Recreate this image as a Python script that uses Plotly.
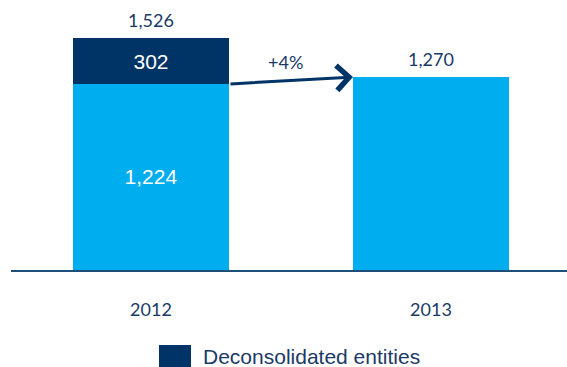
import plotly.graph_objects as go

years = ["2012", "2013"]
core = [1224, 1270]
deconsolidated = [302, 0]
growth_label = "+4%"
legend_label = "Deconsolidated entities"

LIGHT = "#00AEEF"
DARK = "#003366"
TEXT = "#1B3A66"
NUMFONT = "Lato"

totals = [c + d for c, d in zip(core, deconsolidated)]
bw = 0.557

fig = go.Figure()
fig.add_trace(go.Bar(
    x=[0, 1], y=core, width=bw, marker=dict(color=LIGHT, line_width=0),
    text=[f"{core[0]:,}", ""], textposition="inside", insidetextanchor="middle",
    textfont=dict(family="Liberation Sans, Arial", size=21, color="white"),
    showlegend=False, hoverinfo="skip"))
fig.add_trace(go.Bar(
    x=[0, 1], y=deconsolidated, width=bw, marker=dict(color=DARK, line_width=0),
    text=[f"{deconsolidated[0]:,}", ""], textposition="inside", insidetextanchor="middle",
    textfont=dict(family="Liberation Sans, Arial", size=21, color="white"),
    name=legend_label, showlegend=False, hoverinfo="skip"))

annotations = []
for i, t in enumerate(totals):
    annotations.append(dict(x=i, y=t, xref="x", yref="y", text=f"{t:,}",
                            showarrow=False, yanchor="bottom", yshift=5,
                            font=dict(family=NUMFONT, size=18, color=TEXT)))
# growth arrow from end of 2012 core bar to 2013 bar
annotations.append(dict(x=1 - bw / 2, y=core[1], ax=bw / 2, ay=core[0],
                        xref="x", yref="y", axref="x", ayref="y", text="",
                        showarrow=True, arrowhead=4, arrowsize=1.6, arrowwidth=3,
                        arrowcolor=DARK))
annotations.append(dict(x=0.48, y=(core[0] + core[1]) / 2, xref="x", yref="y",
                        text=growth_label, showarrow=False, yshift=18,
                        font=dict(family=NUMFONT, size=18, color=TEXT)))
# legend
annotations.append(dict(x=(201 - 11) / 556, y=-(357 - 270) / 250, xref="paper", yref="paper",
                        text=legend_label, showarrow=False, xanchor="left", yanchor="middle",
                        font=dict(family="Liberation Sans, Arial", size=21, color=TEXT)))

shapes = [dict(type="rect", xref="paper", yref="paper",
               x0=(159 - 11) / 556, x1=(191 - 11) / 556,
               y0=-(345 - 270) / 250, y1=-(370 - 270) / 250,
               fillcolor=DARK, line_width=0)]

fig.update_layout(
    barmode="stack", width=567, height=367,
    margin=dict(l=11, r=0, t=20, b=97),
    plot_bgcolor="white", paper_bgcolor="white",
    annotations=annotations, shapes=shapes,
    xaxis=dict(range=[-0.5, 1.486], tickvals=[0, 1], ticktext=years,
               showgrid=False, zeroline=False, showline=True, linecolor="#1F4E79",
               linewidth=2, ticks="", ticklabelstandoff=22,
               tickfont=dict(family=NUMFONT, size=18, color=TEXT)),
    yaxis=dict(range=[0, 1645], visible=False, showgrid=False, zeroline=False),
)
fig.write_html("out.html", config={"displayModeBar": False},
               post_script="document.body.style.margin='0';")
